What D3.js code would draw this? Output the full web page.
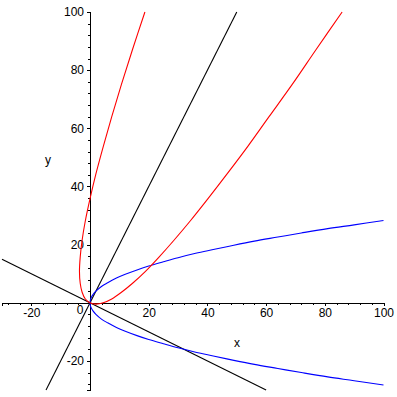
<!DOCTYPE html>
<html>
<head>
<meta charset="utf-8">
<script src="https://cdn.jsdelivr.net/npm/d3@7"></script>
<style>
  body { margin: 0; background: #fff; }
  text { font-family: "Liberation Sans", Arial, sans-serif; font-size: 12px; fill: #000; }
</style>
</head>
<body>
<script>
// curves, as [x, y] pairs
const redCurve = [
  [18.7, 100], [14.5, 87.2], [10.7, 75.1], [7.4, 64.0], [4.5, 53.7], [2.0, 44.3],
  [0, 35.8], [-1.6, 28.2], [-2.7, 21.5], [-3.35, 15.7], [-3.6, 10.7], [-3.35, 6.7],
  [-2.7, 3.6], [-1.6, 1.3], [0, 0], [2.0, -0.45], [4.5, 0], [7.4, 1.3], [10.7, 3.6],
  [14.5, 6.7], [18.8, 10.7], [23.5, 15.7], [28.6, 21.5], [34.2, 28.2], [40.2, 35.8],
  [46.7, 44.3], [53.7, 53.7], [61.0, 64.0], [68.9, 75.1], [77.1, 87.2], [85.9, 100]
];
const blueUpper = [
  [0, 0], [0.1, 0.9], [0.5, 2.0], [1, 2.8], [2, 4.0], [4, 5.7], [6, 6.9], [9, 8.5],
  [12, 9.8], [16, 11.3], [20, 12.65], [25, 14.1], [30, 15.5], [36, 17.0], [42, 18.3],
  [49, 19.8], [56, 21.2], [64, 22.6], [72, 24.0], [81, 25.5], [90, 26.8], [100, 28.3]
];
const blueLower = [
  [0, 0], [0.1, -0.9], [0.5, -2.0], [1, -2.8], [2, -4.0], [4, -5.7], [6, -6.9], [9, -8.5],
  [12, -9.8], [16, -11.3], [20, -12.65], [25, -14.1], [30, -15.5], [36, -17.0], [42, -18.3],
  [49, -19.8], [56, -21.2], [64, -22.6], [72, -24.0], [81, -25.5], [90, -26.8], [100, -28.3]
];
const blackSteep = [[-15, -30], [50, 100]];
const blackFlat = [[-30, 15], [60, -30]];

const xMajor = [-20, 20, 40, 60, 80, 100];
const yMajor = [-20, 20, 40, 60, 80, 100];
const xMinor = d3.range(-28, 101, 4);
const yMinor = d3.range(-28, 101, 4);

const width = 397, height = 397;

const svg = d3.select("body")
  .append("svg")
  .attr("width", width)
  .attr("height", height);

const x = d3.scaleLinear().domain([-30, 100]).range([2, 383.5]);
const y = d3.scaleLinear().domain([-30, 100]).range([390, 12]);

// axes through the origin
const axisX = d3.axisBottom(x).tickValues(xMinor).tickSize(2).tickFormat("");
const axisXMajor = d3.axisBottom(x).tickValues(xMajor).tickSize(3).tickPadding(3)
  .tickFormat(d => String(d));
const axisY = d3.axisLeft(y).tickValues(yMinor).tickSize(2).tickFormat("");
const axisYMajor = d3.axisLeft(y).tickValues(yMajor).tickSize(3).tickPadding(3)
  .tickFormat(d => String(d));

const gx = svg.append("g").attr("transform", `translate(0, ${y(0)})`);
gx.append("g").call(axisX);
gx.append("g").call(axisXMajor);
const gy = svg.append("g").attr("transform", `translate(${x(0)}, 0)`);
gy.append("g").call(axisY);
gy.append("g").call(axisYMajor);

svg.selectAll(".domain").attr("stroke", "#000").attr("shape-rendering", "crispEdges");
svg.selectAll(".tick line").attr("stroke", "#000").attr("shape-rendering", "crispEdges");
svg.selectAll(".tick text")
  .style("font-family", "'Liberation Sans', Arial, sans-serif")
  .style("font-size", "12px")
  .attr("fill", "#000");

// origin label
svg.append("text")
  .attr("x", x(0) - 6.5)
  .attr("y", y(0) + 11)
  .attr("text-anchor", "end")
  .text("0");

// axis names
svg.append("text")
  .attr("x", 237)
  .attr("y", 347)
  .attr("text-anchor", "middle")
  .text("x");
svg.append("text")
  .attr("x", 48)
  .attr("y", 164)
  .attr("text-anchor", "middle")
  .text("y");

const line = d3.line()
  .x(d => x(d[0]))
  .y(d => y(d[1]));
const smooth = d3.line()
  .x(d => x(d[0]))
  .y(d => y(d[1]))
  .curve(d3.curveCatmullRom.alpha(0.5));

const series = [
  { data: blackSteep, color: "#000000", gen: line },
  { data: blackFlat, color: "#000000", gen: line },
  { data: blueUpper, color: "#0000ff", gen: smooth },
  { data: blueLower, color: "#0000ff", gen: smooth },
  { data: redCurve, color: "#ff0000", gen: smooth }
];

series.forEach(s => {
  svg.append("path")
    .datum(s.data)
    .attr("fill", "none")
    .attr("stroke", s.color)
    .attr("stroke-width", 1.1)
    .attr("d", s.gen);
});
</script>
</body>
</html>
